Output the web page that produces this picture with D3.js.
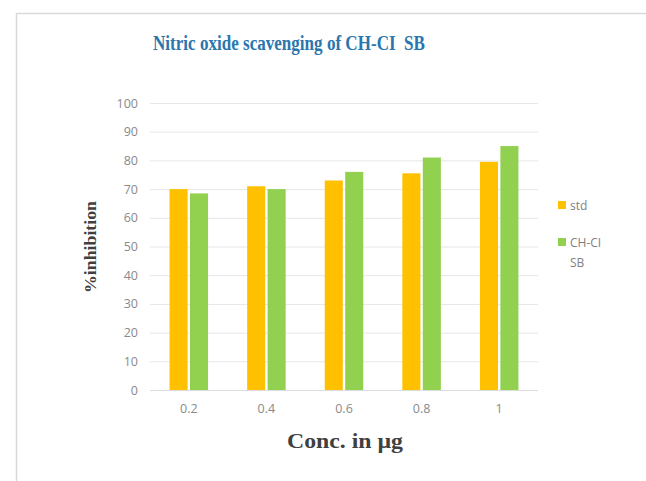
<!DOCTYPE html>
<html>
<head>
<meta charset="utf-8">
<script src="https://cdn.jsdelivr.net/npm/d3@7"></script>
<style>
  html, body { margin: 0; padding: 0; background: #fff; }
  svg { display: block; }
</style>
</head>
<body>
<svg id="chart" width="646" height="481"></svg>
<script>
// Concentrations (x categories) and % inhibition for each series
const categories = ["0.2", "0.4", "0.6", "0.8", "1"];
const stdValues = [70, 71, 73, 75.5, 79.5];
const chclValues = [68.5, 70, 76, 81, 85];
const seriesNames = ["std", "CH-CI SB"];
const yTicks = [0, 10, 20, 30, 40, 50, 60, 70, 80, 90, 100];

const colors = { "std": "#FFC000", "CH-CI SB": "#92D050" };

const svg = d3.select("#chart");
const W = 646, H = 481;

// Outer chart frame (top and left edges visible)
svg.append("line").attr("x1", 16).attr("x2", W).attr("y1", 13.5).attr("y2", 13.5)
  .attr("stroke", "#d9d9d9").attr("stroke-width", 1.5);
svg.append("line").attr("x1", 16.5).attr("x2", 16.5).attr("y1", 13).attr("y2", H)
  .attr("stroke", "#d9d9d9").attr("stroke-width", 1.5);

const plot = { left: 150, right: 538, top: 103, bottom: 390 };

const x = d3.scaleBand().domain(categories).range([plot.left, plot.right]).paddingInner(0).paddingOuter(0);
const y = d3.scaleLinear().domain([0, 100]).range([plot.bottom, plot.top]);

const barW = 17, gap = 4.5;
const xs = d3.scaleBand().domain(seriesNames)
  .range([(x.bandwidth() - (2 * barW + gap)) / 2, (x.bandwidth() + (2 * barW + gap)) / 2])
  .paddingInner(gap / (barW + gap / 2) / 2);

// Gridlines
const yAxis = d3.axisLeft(y).tickValues(yTicks).tickSize(-(plot.right - plot.left)).tickPadding(12);
const gy = svg.append("g").attr("transform", `translate(${plot.left},0)`).call(yAxis);
gy.select(".domain").remove();
gy.selectAll(".tick line").attr("stroke", "#e6e6e6").attr("stroke-width", 1);
gy.selectAll(".tick text")
  .attr("fill", "#8a8a8a").attr("font-family", "Open Sans, sans-serif").attr("font-size", 12.5);

// Bars
const rows = categories.map((c, i) => ({ cat: c, vals: [
  { name: "std", v: stdValues[i] },
  { name: "CH-CI SB", v: chclValues[i] }
]}));

const groups = svg.append("g").selectAll("g").data(rows).join("g")
  .attr("transform", d => `translate(${x(d.cat)},0)`);
groups.selectAll("rect").data(d => d.vals).join("rect")
  .attr("x", d => xs(d.name))
  .attr("width", xs.bandwidth())
  .attr("y", d => y(d.v))
  .attr("height", d => y(0) - y(d.v))
  .attr("fill", d => colors[d.name]);

// X axis baseline and labels
svg.append("line").attr("x1", plot.left).attr("x2", plot.right)
  .attr("y1", plot.bottom + 0.5).attr("y2", plot.bottom + 0.5).attr("stroke", "#dcdcdc");
const xAxis = d3.axisBottom(x).tickSize(0).tickPadding(14);
const gx = svg.append("g").attr("transform", `translate(0,${plot.bottom})`).call(xAxis);
gx.select(".domain").remove();
gx.selectAll(".tick text")
  .attr("fill", "#8a8a8a").attr("font-family", "Open Sans, sans-serif").attr("font-size", 12.5);

// Title (narrow bold serif)
svg.append("text").attr("x", 289).attr("y", 50).attr("text-anchor", "middle")
  .attr("font-family", "Liberation Serif, serif").attr("font-weight", "bold").attr("font-size", 20)
  .attr("fill", "#2a76ad").attr("xml:space", "preserve")
  .attr("textLength", 272).attr("lengthAdjust", "spacingAndGlyphs")
  .text("Nitric oxide scavenging of CH-CI  SB");

// Axis titles
svg.append("text").attr("x", 345).attr("y", 448).attr("text-anchor", "middle")
  .attr("font-family", "Liberation Serif, serif").attr("font-weight", "bold").attr("font-size", 22)
  .attr("fill", "#404040")
  .attr("textLength", 116).attr("lengthAdjust", "spacingAndGlyphs")
  .text("Conc. in µg");

svg.append("text").attr("transform", "translate(96,247) rotate(-90)").attr("text-anchor", "middle")
  .attr("font-family", "Liberation Serif, serif").attr("font-weight", "bold").attr("font-size", 17)
  .attr("fill", "#404040")
  .attr("textLength", 92).attr("lengthAdjust", "spacingAndGlyphs")
  .text("%inhibition");

// Legend
const legend = svg.append("g").attr("font-family", "Open Sans, sans-serif").attr("font-size", 12)
  .attr("fill", "#7f7f7f");
legend.append("rect").attr("x", 558).attr("y", 201).attr("width", 8).attr("height", 8).attr("fill", colors["std"]);
legend.append("text").attr("x", 570).attr("y", 209.5).text("std");
legend.append("rect").attr("x", 558).attr("y", 238).attr("width", 8).attr("height", 8).attr("fill", colors["CH-CI SB"]);
legend.append("text").attr("x", 570).attr("y", 247).text("CH-CI");
legend.append("text").attr("x", 570).attr("y", 267).text("SB");
</script>
</body>
</html>
